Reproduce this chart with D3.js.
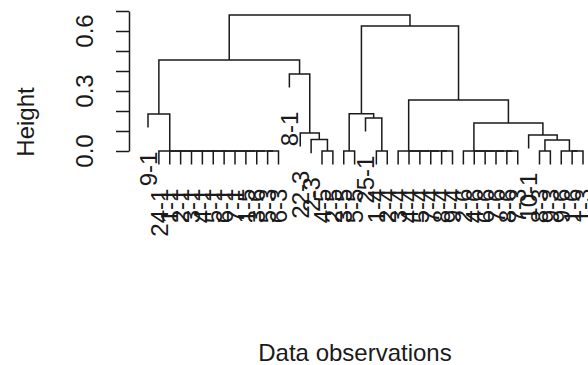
<!DOCTYPE html>
<html>
<head>
<meta charset="utf-8">
<script src="https://cdn.jsdelivr.net/npm/d3@7"></script>
<style>
  html, body { margin: 0; padding: 0; background: #fff; }
  svg { display: block; }
  text { font-family: "Liberation Sans", Arial, sans-serif; fill: #1a1a1a; }
</style>
</head>
<body>
<svg id="chart" width="588" height="365"></svg>
<script>
// Observation labels, in leaf order (left to right)
const leafLabels = [
  "9-1",
  "24-1", "1-1", "2-1", "3-1", "4-1", "5-1", "6-1", "7-1", "1-5", "3-6", "5-3", "6-3",
  "8-1", "22-3", "2-3", "4-5", "2-5", "3-5", "5-5", "25-1", "1-4", "2-4",
  "3-4", "4-4", "5-4", "7-4", "8-4", "9-4",
  "2-6", "4-6", "6-6", "7-6", "8-6", "7-3",
  "10-1", "8-3", "9-3", "9-6", "1-6", "1-3"
];

// hclust-style merge table: negative = leaf number (1-based),
// positive = row of an earlier merge (1-based)
const merges = [
  [-12, -13], [-11, 1], [-10, 2], [-9, 3], [-8, 4], [-7, 5],
  [-6, 6], [-5, 7], [-4, 8], [-3, 9], [-2, 10],
  [-17, -18], [-19, -20], [-22, -23],
  [-28, -29], [-27, 15], [-26, 16], [-25, 17], [-24, 18],
  [-34, -35], [-33, 20], [-32, 21], [-31, 22], [-30, 23],
  [-37, -38], [-40, -41], [-39, 26],
  [25, 27], [-16, 12], [-36, 28], [-15, 29], [24, 30],
  [-21, 14], [-1, 11], [13, 33], [19, 32], [-14, 31],
  [34, 37], [35, 36], [38, 39]
];

// Height of each merge above
const mergeHeights = [
  0, 0, 0, 0, 0, 0, 0, 0, 0, 0, 0,
  0, 0, 0,
  0, 0, 0, 0, 0,
  0, 0, 0, 0, 0,
  0, 0, 0,
  0.055, 0.057, 0.08, 0.09, 0.14,
  0.165, 0.185, 0.186, 0.255, 0.385,
  0.455, 0.625, 0.68
];

const yTicks = [0, 0.1, 0.2, 0.3, 0.4, 0.5, 0.6, 0.7];
const yTickLabels = [0, 0.3, 0.6];
const xTitle = "Data observations";
const yTitle = "Height";

// ---- build the tree from the merge table ----
function buildNode(ref) {
  if (ref < 0) return { name: leafLabels[-ref - 1], height: 0, leaf: true };
  const [a, b] = merges[ref - 1];
  return { height: mergeHeights[ref - 1], children: [buildNode(a), buildNode(b)] };
}
const root = d3.hierarchy(buildNode(merges.length));

// leaves at consecutive positions, each merge at the midpoint of its two branches
root.leaves().forEach((d, i) => { d.pos = i; });
root.eachAfter(d => {
  if (d.children) d.pos = d3.mean(d.children, c => c.pos);
});

const hang = 0.1 * d3.max(mergeHeights);
const nLeaves = leafLabels.length;

const x = d3.scaleLinear().domain([0, nLeaves - 1]).range([148, 583]);
const y = d3.scaleLinear().domain([0, 0.7]).range([151, 11]);

const svg = d3.select("#chart");
const ink = "#1a1a1a";

// ---- dendrogram branches ----
const branchBottom = (child, parentH) =>
  child.children ? y(child.data.height) : y(parentH - hang);

const internal = root.descendants().filter(d => d.children);
svg.append("g")
  .attr("fill", "none")
  .attr("stroke", ink)
  .attr("stroke-width", 1.5)
  .selectAll("path")
  .data(internal)
  .join("path")
  .attr("d", d => {
    const h = d.data.height;
    const [l, r] = d.children;
    const p = d3.path();
    p.moveTo(x(l.pos), branchBottom(l, h));
    p.lineTo(x(l.pos), y(h));
    p.lineTo(x(r.pos), y(h));
    p.lineTo(x(r.pos), branchBottom(r, h));
    return p.toString();
  });

// ---- leaf labels, vertical, hanging below each leaf ----
svg.append("g")
  .attr("font-size", 24)
  .selectAll("text")
  .data(root.leaves())
  .join("text")
  .attr("transform", d => `translate(${x(d.pos)},${y(d.parent.data.height - hang) + 24}) rotate(-90)`)
  .attr("text-anchor", "end")
  .attr("dy", "0.36em")
  .text(d => d.data.name);

// ---- y axis ----
const axis = svg.append("g")
  .attr("transform", "translate(129,0)")
  .call(d3.axisLeft(y).tickValues(yTicks).tickSize(13).tickSizeOuter(0).tickFormat(""));
axis.selectAll("path, line").attr("stroke", ink).attr("stroke-width", 1.5);
axis.selectAll("text").remove();

svg.append("g")
  .attr("font-size", 24)
  .selectAll("text")
  .data(yTickLabels)
  .join("text")
  .attr("transform", d => `translate(93,${y(d)}) rotate(-90)`)
  .attr("text-anchor", "middle")
  .text(d3.format(".1f"));

// ---- axis titles ----
svg.append("text")
  .attr("transform", "translate(34,122) rotate(-90)")
  .attr("text-anchor", "middle")
  .attr("font-size", 24)
  .text(yTitle);

svg.append("text")
  .attr("x", 355)
  .attr("y", 361)
  .attr("text-anchor", "middle")
  .attr("font-size", 24)
  .text(xTitle);
</script>
</body>
</html>
